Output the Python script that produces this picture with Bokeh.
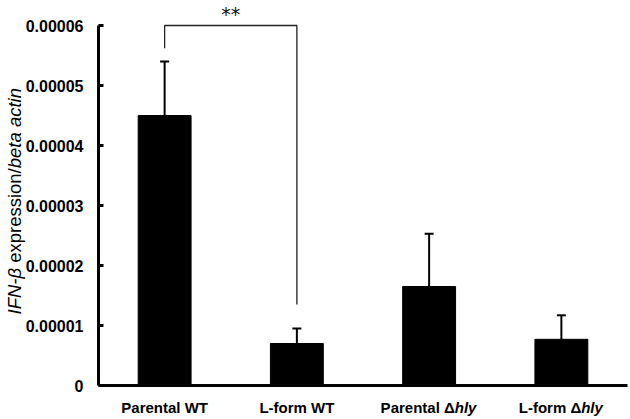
import math
from bokeh.plotting import figure
from bokeh.models import (Range1d, FixedTicker, PrintfTickFormatter, Label,
                          ColumnDataSource, Whisker, TeeHead)
from bokeh.embed import file_html
from bokeh.resources import INLINE

# ---- data ----
categories = ["Parental WT", "L-form WT", "Parental \u0394hly", "L-form \u0394hly"]
label_plain = ["Parental WT", "L-form WT", "Parental \u0394", "L-form \u0394"]
label_italic = ["", "", "hly", "hly"]
means = [0.0000450, 0.0000070, 0.0000165, 0.0000077]
errors = [0.0000090, 0.0000025, 0.0000088, 0.0000040]
y_ticks = [0, 0.00001, 0.00002, 0.00003, 0.00004, 0.00005, 0.00006]
bracket_from, bracket_to = 0, 1
bracket_top = 0.00006
bracket_left_end = 0.0000562
bracket_right_end = 0.0000135
sig_text = "**"
ylabel_parts = [("IFN-\u03b2 ", "italic"), ("expression/", "normal"), ("beta actin", "italic")]

# ---- layout (frame covers the whole canvas; axes drawn at fixed locations) ----
W, H = 630, 419
AX_X, AX_Y = 98, 385                  # image px of the axes origin
px_x = 132.25                         # px per category
px_y = 360 / 0.00006                  # px per data unit on y
n = len(categories)

xs = [i + 0.5 for i in range(n)]
uppers = [m + e for m, e in zip(means, errors)]
src = ColumnDataSource(dict(x=xs, top=means, upper=uppers))

p = figure(width=W, height=H, output_backend="svg", toolbar_location=None,
           x_range=Range1d(-AX_X / px_x, (W - AX_X) / px_x),
           y_range=Range1d(-(H - AX_Y) / px_y, AX_Y / px_y),
           min_border=0)
p.outline_line_color = None
p.grid.visible = False
p.background_fill_color = "white"
p.border_fill_color = "white"

p.vbar(x="x", top="top", width=0.4, source=src, fill_color="black",
       line_color="black")

wh = Whisker(source=src, base="x", upper="upper", lower="top",
             dimension="height", line_width=2, line_color="black",
             upper_head=TeeHead(size=9, line_width=2, line_color="black"),
             lower_head=None)
p.add_layout(wh)

# bracket
bx = [xs[bracket_from], xs[bracket_from], xs[bracket_to], xs[bracket_to]]
by = [bracket_left_end, bracket_top, bracket_top, bracket_right_end]
p.line(bx, by, line_color="#222222", line_width=1.3)

sig = Label(x=(xs[bracket_from] + xs[bracket_to]) / 2, y=bracket_top, y_offset=12,
            text=sig_text, text_align="center", text_baseline="middle",
            text_font="DejaVu Sans", text_font_size="19px", text_color="#111111")
p.add_layout(sig)

# y axis
ya = p.yaxis[0]
ya.fixed_location = 0
ya.bounds = (0, 0.00006)
ya.ticker = FixedTicker(ticks=y_ticks)
ya.formatter = PrintfTickFormatter(format="%.5f")
ya.major_label_overrides = {0: "0"}
ya.axis_line_width = 3
ya.major_tick_line_width = 3
ya.major_tick_in = 5
ya.major_tick_out = 0
ya.minor_tick_line_color = None
ya.major_label_standoff = 15
ya.major_label_text_font = "Liberation Sans"
ya.major_label_text_font_style = "bold"
ya.major_label_text_font_size = "16px"
ya.major_label_text_color = "black"

# x axis
xa = p.xaxis[0]
xa.fixed_location = 0
xa.bounds = (0, (W - 3 - AX_X) / px_x)
xa.ticker = FixedTicker(ticks=[])
xa.axis_line_width = 3
xa.major_tick_line_color = None
xa.minor_tick_line_color = None
xa.major_label_text_font_size = "0px"

# x category labels (mixed style)
lab_y = -22 / px_y
fs = 15
def est_w(s):
    widths = {"P": .667, "a": .556, "r": .389, "e": .556, "n": .611, "t": .333,
              "l": .278, " ": .278, "W": .944, "T": .611, "L": .611, "-": .333,
              "f": .333, "o": .611, "m": .889, "\u0394": .64, "h": .611, "y": .556}
    return sum(widths.get(c, .55) for c in s) * fs

for x, a, b in zip(xs, label_plain, label_italic):
    if not b:
        p.add_layout(Label(x=x, y=lab_y, text=a, text_align="center",
                           text_baseline="middle", text_font="Liberation Sans",
                           text_font_style="bold", text_font_size=f"{fs}px",
                           text_color="black"))
    else:
        wa, wb = est_w(a), est_w(b)
        off = (wa - wb) / 2
        p.add_layout(Label(x=x, y=lab_y, x_offset=off, text=a, text_align="right",
                           text_baseline="middle", text_font="Liberation Sans",
                           text_font_style="bold", text_font_size=f"{fs}px",
                           text_color="black"))
        p.add_layout(Label(x=x, y=lab_y, x_offset=off, text=b, text_align="left",
                           text_baseline="middle", text_font="Liberation Sans",
                           text_font_style="bold italic", text_font_size=f"{fs}px",
                           text_color="black"))

# y axis label (mixed style, rotated)
yfs = 18.5
def est_w2(s):
    widths = {"I": .278, "F": .611, "N": .722, "-": .333, "\u03b2": .57, " ": .278,
              "e": .556, "x": .5, "p": .556, "r": .333, "s": .5, "i": .222,
              "o": .556, "n": .556, "/": .278, "b": .556, "t": .278, "a": .556,
              "c": .5}
    return sum(widths.get(c, .55) for c in s) * yfs

start_px = 314   # image y where the label starts (bottom end)
cur = start_px
for txt, style in ylabel_parts:
    p.add_layout(Label(x=0, x_offset=-84, y=(AX_Y - cur) / px_y, text=txt,
                       angle=math.pi / 2, text_align="left", text_baseline="middle",
                       text_font="Liberation Sans", text_font_style=style,
                       text_font_size=f"{yfs}px", text_color="black"))
    cur -= est_w2(txt)

open("out.html", "w").write(file_html(p, INLINE))
